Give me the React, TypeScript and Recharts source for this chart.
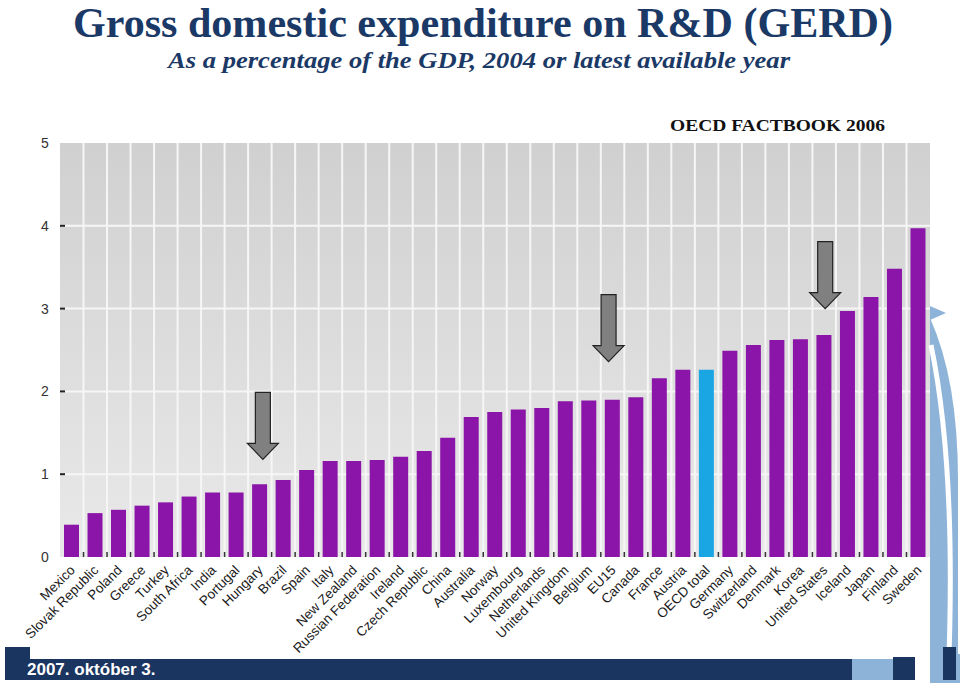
import { BarChart, Bar, XAxis, YAxis, CartesianGrid, Cell, ReferenceDot } from 'recharts'

const countries = [
  'Mexico', 'Slovak Republic', 'Poland', 'Greece', 'Turkey', 'South Africa', 'India', 'Portugal',
  'Hungary', 'Brazil', 'Spain', 'Italy', 'New Zealand', 'Russian Federation', 'Ireland',
  'Czech Republic', 'China', 'Australia', 'Norway', 'Luxembourg', 'Netherlands', 'United Kingdom',
  'Belgium', 'EU15', 'Canada', 'France', 'Austria', 'OECD total', 'Germany', 'Switzerland',
  'Denmark', 'Korea', 'United States', 'Iceland', 'Japan', 'Finland', 'Sweden',
]
const gerd = [
  0.39, 0.53, 0.57, 0.62, 0.66, 0.73, 0.78, 0.78,
  0.88, 0.93, 1.05, 1.16, 1.16, 1.17, 1.21,
  1.28, 1.44, 1.69, 1.75, 1.78, 1.80, 1.88,
  1.89, 1.90, 1.93, 2.16, 2.26, 2.26, 2.49, 2.56,
  2.62, 2.63, 2.68, 2.97, 3.14, 3.48, 3.97,
]
const yTicks = [0, 1, 2, 3, 4, 5]
const highlighted = 'OECD total'
// grey arrows: category + value where the arrow tip points
const arrowAt = ['Hungary', 'EU15', 'United States']
const arrowTip = [1.18, 2.36, 3.0]
const arrowShift = [3, -4, 1]

const data = countries.map((c, i) => ({ country: c, value: gerd[i] }))

const W = 960
const H = 683
const LEFT = 60
const RIGHT = 930
const TOP = 143
const BOTTOM = 557
const band = (RIGHT - LEFT) / countries.length

function XTick(props: any) {
  const { x, payload, index } = props
  return (
    <g>
      {index > 0 && (
        <line x1={x - band / 2} x2={x - band / 2} y1={552} y2={557} stroke="#333" strokeWidth={1.5} />
      )}
      <text
        x={0}
        y={0}
        transform={`translate(${x + 4},${571}) rotate(-45)`}
        textAnchor="end"
        fontSize={13.5}
        fontFamily="Liberation Sans, Arial, sans-serif"
        fill="#1a1a1a"
      >
        {payload.value}
      </text>
    </g>
  )
}

function YTick(props: any) {
  const { y, payload } = props
  const v = payload.value
  return (
    <g>
      {v > 0 && v < 5 && <line x1={LEFT} x2={LEFT + 5} y1={y} y2={y} stroke="#222" strokeWidth={2} />}
      <text x={45} y={y + 5} textAnchor="middle" fontSize={14} fontFamily="Liberation Sans, Arial, sans-serif" fill="#333">
        {v}
      </text>
    </g>
  )
}

function Arrow(props: any) {
  const { cx, cy, shift } = props
  const x = cx + shift
  const shaft = 7.5
  const head = 15.5
  const d = `M${x - shaft},${cy - 67} L${x + shaft},${cy - 67} L${x + shaft},${cy - 16} L${x + head},${cy - 16} L${x},${cy} L${x - head},${cy - 16} L${x - shaft},${cy - 16} Z`
  return <path d={d} fill="#808080" stroke="#222" strokeWidth={1.2} />
}

export default function App() {
  return (
    <div style={{ position: 'absolute', left: 0, top: 0, width: W, height: H, background: '#fff', overflow: 'hidden' }}>
      <BarChart
        width={W}
        height={H}
        data={data}
        margin={{ top: TOP, right: W - RIGHT, bottom: 0, left: 0 }}
        barSize={15}
      >
        <defs>
          <linearGradient id="plotBg" x1="0" y1="0" x2="0" y2="1">
            <stop offset="0%" stopColor="#d0d0d0" />
            <stop offset="100%" stopColor="#e9e9e9" />
          </linearGradient>
        </defs>
        <CartesianGrid
          fill="url(#plotBg)"
          stroke="#f6f6f6"
          strokeWidth={2}
          verticalCoordinatesGenerator={({ offset }: any) =>
            countries.slice(1).map((_, i) => offset.left + ((i + 1) * offset.width) / countries.length)
          }
          horizontalCoordinatesGenerator={({ offset }: any) =>
            [1, 2, 3, 4].map((v) => offset.top + offset.height * (1 - v / 5))
          }
        />
        <XAxis
          dataKey="country"
          interval={0}
          height={H - BOTTOM}
          tickLine={false}
          axisLine={false}
          tick={<XTick />}
        />
        <YAxis
          domain={[0, 5]}
          ticks={yTicks}
          width={LEFT}
          tickLine={false}
          axisLine={false}
          tick={<YTick />}
        />
        <Bar dataKey="value" isAnimationActive={false}>
          {data.map((d) => (
            <Cell key={d.country} fill={d.country === highlighted ? '#19a6e2' : '#8b15a8'} />
          ))}
        </Bar>
        {arrowAt.map((c, i) => (
          <ReferenceDot
            key={c}
            x={c}
            y={arrowTip[i]}
            r={0}
            ifOverflow="visible"
            shape={(p: any) => <Arrow {...p} shift={arrowShift[i]} />}
          />
        ))}
      </BarChart>

      <svg width={W} height={H} style={{ position: 'absolute', left: 0, top: 0, pointerEvents: 'none' }}>
        <text
          x={73}
          y={37}
          fontSize={42}
          fontWeight="bold"
          fontFamily="Liberation Serif, Times New Roman, serif"
          fill="#1b3966"
          textLength={820}
          lengthAdjust="spacingAndGlyphs"
        >
          Gross domestic expenditure on R&amp;D (GERD)
        </text>
        <text
          x={168}
          y={68}
          fontSize={24}
          fontWeight="bold"
          fontStyle="italic"
          fontFamily="Liberation Serif, Times New Roman, serif"
          fill="#1b3966"
          textLength={622}
          lengthAdjust="spacingAndGlyphs"
        >
          As a percentage of the GDP, 2004 or latest available year
        </text>
        <text
          x={670}
          y={131}
          fontSize={17}
          fontWeight="bold"
          fontFamily="Liberation Serif, Times New Roman, serif"
          fill="#111"
          textLength={215}
          lengthAdjust="spacingAndGlyphs"
        >
          OECD  FACTBOOK  2006
        </text>

        {/* slide template decoration */}
        <path d="M930,306 L946,313 L930,320 Z" fill="#8db3d8" />
        <path d="M930,318 Q958,380 958,480 L958,683 L930,683 Z" fill="#8db3d8" />
        <path d="M931,345 Q957,470 948,683" fill="none" stroke="#fff" strokeWidth={5} />
        <rect x={930} y={654} width={30} height={29} fill="#8db3d8" />
        <rect x={5} y={659} width={847} height={21} fill="#1a355f" />
        <rect x={5} y={647} width={25} height={13} fill="#1a355f" />
        <rect x={852} y={659} width={41} height={21} fill="#8db3d8" />
        <rect x={893} y={657} width={22} height={23} fill="#1a355f" />
        <rect x={943} y={647} width={13} height={33} fill="#1a355f" />
        <text x={27} y={675} fontSize={17} fontWeight="bold" fontFamily="Liberation Sans, Arial, sans-serif" fill="#fff">
          2007. október 3.
        </text>
      </svg>
    </div>
  )
}
